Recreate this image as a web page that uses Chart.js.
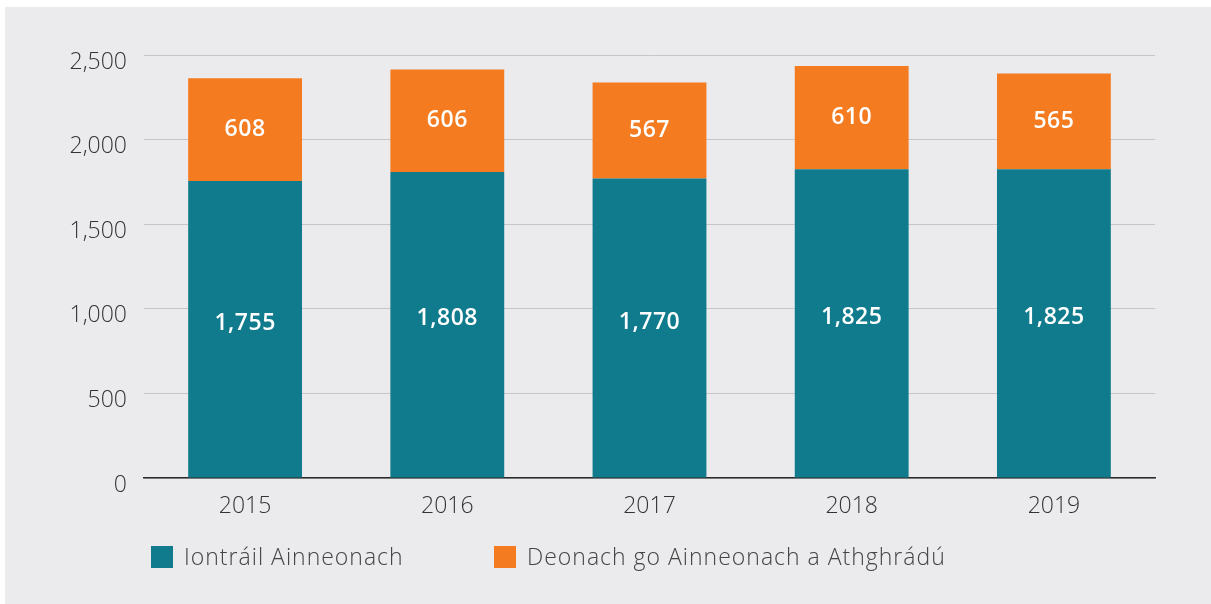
<!DOCTYPE html>
<html>
<head>
<meta charset="utf-8">
<script src="https://cdn.jsdelivr.net/npm/chart.js@4/dist/chart.umd.min.js"></script>
<style>
  html, body { margin: 0; padding: 0; background: #ffffff; }
  #wrap { width: 1211px; height: 604px; position: relative; }
</style>
</head>
<body>
<div id="wrap"><canvas id="chart" width="1211" height="604"></canvas></div>
<script>
// values
var years = ["2015", "2016", "2017", "2018", "2019"];
var iontrail = [1755, 1808, 1770, 1825, 1825];
var deonach = [608, 606, 567, 610, 565];
var seriesNames = ["Iontráil Ainneonach", "Deonach go Ainneonach a Athghrádú"];
var yTicks = [0, 500, 1000, 1500, 2000, 2500];

var TEAL = "#0f7b8c";
var ORANGE = "#f47b20";
var FONT = "'Open Sans', Lato, sans-serif";

// grey panel behind everything
var panel = {
	id: "panel",
	beforeDraw: function(chart){
		var ctx = chart.ctx;
		ctx.save();
		ctx.fillStyle = "#ebebed";
		ctx.fillRect(5, 7, chart.width - 5, chart.height - 7);
		ctx.restore();
	}
};

// white numbers inside the bar segments
var barLabels = {
	id: "barLabels",
	afterDatasetsDraw: function(chart){
		var ctx = chart.ctx;
		ctx.save();
		ctx.fillStyle = "#ffffff";
		ctx.font = "600 23px " + FONT;
		ctx.letterSpacing = "0.5px";
		ctx.textAlign = "center";
		ctx.textBaseline = "middle";
		chart.data.datasets.forEach(function(ds, di){
			var meta = chart.getDatasetMeta(di);
			meta.data.forEach(function(bar, i){
				var y = (bar.y + bar.base) / 2 + (di === 0 ? -6 : 0);
				ctx.fillText(ds.data[i].toLocaleString("en-US"), bar.x, y);
			});
		});
		ctx.restore();
	}
};

// legend at the bottom left
var legendBoxes = {
	id: "legendBoxes",
	afterDraw: function(chart){
		var ctx = chart.ctx;
		var starts = [151, 494];
		ctx.save();
		ctx.font = "300 23px " + FONT;
		ctx.letterSpacing = "1px";
		ctx.textBaseline = "middle";
		ctx.textAlign = "left";
		chart.data.datasets.forEach(function(ds, di){
			ctx.fillStyle = ds.backgroundColor;
			ctx.fillRect(starts[di], 546, 22, 22);
			ctx.fillStyle = "#444444";
			ctx.fillText(ds.label, starts[di] + 33, 558);
		});
		ctx.restore();
	}
};

var ctx = document.getElementById("chart");
var chart = new Chart(ctx, {
	type: "bar",
	data: {
		labels: years,
		datasets: [
			{ label: seriesNames[0], data: iontrail, backgroundColor: TEAL },
			{ label: seriesNames[1], data: deonach, backgroundColor: ORANGE }
		]
	},
	options: {
		responsive: false,
		animation: false,
		layout: { padding: { left: 0, right: 56, top: 55, bottom: 0 } },
		categoryPercentage: 1,
		barPercentage: 0.563,
		plugins: {
			legend: { display: false },
			tooltip: { enabled: false }
		},
		scales: {
			x: {
				stacked: true,
				grid: { display: false, drawTicks: false },
				border: { display: true, color: "#2b2b2b", width: 1.5 },
				ticks: { color: "#333333", font: { family: FONT, size: 23, weight: 300 }, padding: 15 },
				afterFit: function(scale){ scale.height = 126; }
			},
			y: {
				stacked: true,
				min: 0,
				max: 2500,
				afterBuildTicks: function(scale){
					scale.ticks = yTicks.map(function(v){ return { value: v }; });
				},
				grid: { color: "#c6c6c8", lineWidth: 1, drawTicks: false },
				border: { display: false },
				ticks: {
					color: "#333333",
					font: { family: FONT, size: 23, weight: 300 },
					padding: 17,
					labelOffset: 7,
					callback: function(v){ return Number(v).toLocaleString("en-US"); }
				},
				afterFit: function(scale){ scale.width = 144; }
			}
		}
	},
	plugins: [panel, barLabels, legendBoxes]
});
</script>
</body>
</html>
